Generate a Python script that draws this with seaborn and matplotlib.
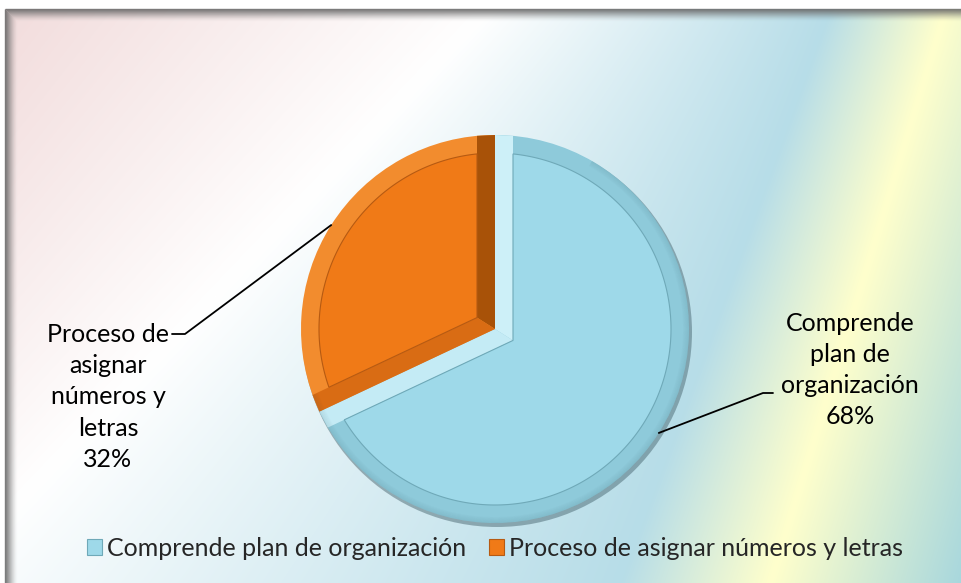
import numpy as np
import matplotlib
matplotlib.use("Agg")
import matplotlib.pyplot as plt
from matplotlib.patches import Polygon, Wedge, Patch
import seaborn as sns

# data
categories = ["Comprende plan de organización", "Proceso de asignar números y letras"]
percentages = [68, 32]
label_texts = ["Comprende\nplan de\norganización\n68%", "Proceso de\nasignar\nnúmeros y\nletras\n32%"]

fill_colors = ["#9ed9e9", "#f07a17"]
rim_colors = ["#8ecada", "#f28c2e"]
line_colors = ["#6fa9b8", "#b65a12"]
# bevel colours of the radial edges: (theta1 edge, theta2 edge) of each slice
edge_colors = [("#c4ebf5", "#cdf0f8"), ("#a85208", "#d96c14")]

W, H = 962, 583
sns.set_theme(style="white")
plt.rcParams["font.family"] = ["Lato", "DejaVu Sans"]
FS = 18

fig = plt.figure(figsize=(W / 100, H / 100), dpi=100)
fig.patch.set_facecolor("white")
ax = fig.add_axes([0, 0, 1, 1])


def hex_rgb(h):
    h = h.lstrip("#")
    return np.array([int(h[i:i + 2], 16) for i in (0, 2, 4)]) / 255.0


# background gradient (stops shift left toward the bottom)
stop_cols = [hex_rgb(c) for c in ["#f2dcdc", "#ffffff", "#b7dde8", "#ffffcc", "#9fd3df"]]
stops_top = [0, 490, 830, 945, 1150]
stops_bot = [-420, -60, 620, 770, 980]
x0, y0 = 5, 9
gx = np.arange(x0, W)
img = np.zeros((H - y0, W - x0, 3))
for i, yy in enumerate(range(y0, H)):
    t = (yy - y0) / (H - y0)
    pos = [a + (b - a) * t for a, b in zip(stops_top, stops_bot)]
    for c in range(3):
        img[i, :, c] = np.interp(gx, pos, [s[c] for s in stop_cols])
ax.imshow(img, extent=(x0, W, 0, H - y0), origin="upper", zorder=0, aspect="auto")

# frame bevel (top and left)
for k in range(12):
    a = 0.85 * (1 - k / 12) ** 1.6
    ax.plot([x0 + k, W], [H - y0 - k, H - y0 - k], color="#6a6a6a", alpha=a, lw=1, zorder=1,
            solid_capstyle="butt")
    ax.plot([x0 + k, x0 + k], [0, H - y0 - k], color="#6a6a6a", alpha=a, lw=1, zorder=1,
            solid_capstyle="butt")

cx, cy, R = 495, H - 329, 194
bev = 18

# shadow
ax.add_patch(plt.Circle((cx + 2, cy - 3), R + 1, color="#3c5a64", alpha=0.45, zorder=2, lw=0))

# base pie (rim colour)
outer, _ = ax.pie(percentages, colors=rim_colors, startangle=90, counterclock=False,
                  center=(cx, cy), radius=R, frame=True,
                  wedgeprops=dict(edgecolor="none", linewidth=0))
for w in outer:
    w.set_zorder(3)


def pt(r, ang):
    a = np.deg2rad(ang)
    return np.array([cx + r * np.cos(a), cy + r * np.sin(a)])


rho = R - bev
d_rho = np.rad2deg(np.arcsin(bev / rho))
d_R = np.rad2deg(np.arcsin(bev / R))
c0 = np.array([cx, cy])
for w, fc, lc, (ec1, ec2) in zip(outer, fill_colors, line_colors, edge_colors):
    t1, t2 = w.theta1, w.theta2
    span = t2 - t1
    mid = (t1 + t2) / 2
    vin = pt(bev / np.sin(np.deg2rad(span / 2)), mid)
    # radial bevel strips
    ax.add_patch(Polygon([c0, pt(R, t1), pt(R, t1 + d_R), pt(rho, t1 + d_rho), vin],
                         closed=True, facecolor=ec1, edgecolor="none", zorder=4))
    ax.add_patch(Polygon([c0, pt(R, t2), pt(R, t2 - d_R), pt(rho, t2 - d_rho), vin],
                         closed=True, facecolor=ec2, edgecolor="none", zorder=4))
    # inner face
    arc = [pt(rho, a) for a in np.linspace(t1 + d_rho, t2 - d_rho, 200)]
    ax.add_patch(Polygon([vin] + arc, closed=True, facecolor=fc, edgecolor=lc, lw=0.8,
                         zorder=5))

# shading of the outer rim toward lower right
for k in range(6):
    ax.add_patch(Wedge((cx, cy), R - k, 200, 60 + 360, width=1, facecolor="#1f4650",
                       edgecolor="none", alpha=0.10 * (1 - k / 6), zorder=6))

# data labels with leader lines
mids = []
start = 90
for p in percentages:
    mids.append(np.deg2rad(start - p * 3.6 / 2))
    start -= p * 3.6
label_pos = [(850, H - 370), (108, H - 397)]
elbows = [((763, H - 393), (773, H - 393)), ((185, H - 334), (172, H - 334))]
for m, txt, (lx, ly), (e1, e2) in zip(mids, label_texts, label_pos, elbows):
    sx, sy = cx + R * np.cos(m), cy + R * np.sin(m)
    ax.plot([sx, e1[0], e2[0]], [sy, e1[1], e2[1]], color="black", lw=1.3, zorder=7)
    ax.text(lx, ly, txt, ha="center", va="center", fontsize=FS, linespacing=1.43,
            color="black", zorder=7)

ax.set_xlim(0, W)
ax.set_ylim(0, H)
ax.set_aspect("auto")
ax.axis("off")

handles = [Patch(facecolor=c, edgecolor=l, lw=0.8) for c, l in zip(fill_colors, line_colors)]
fig.legend(handles, categories, loc="center", bbox_to_anchor=(495 / W, 1 - 548 / H),
           ncol=2, frameon=False, fontsize=FS, handlelength=0.6, handleheight=0.6,
           handletextpad=0.2, columnspacing=0.9, borderaxespad=0)

fig.savefig("out.png", dpi=100)
